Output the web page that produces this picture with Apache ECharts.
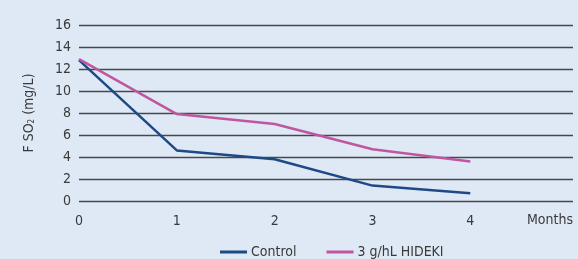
<!DOCTYPE html>
<html>
<head>
<meta charset="utf-8">
<script src="https://cdn.jsdelivr.net/npm/echarts@6/dist/echarts.min.js"></script>
<style>
  html, body { margin: 0; padding: 0; background: #dfe8f5; }
  #chart { width: 578px; height: 259px; }
</style>
</head>
<body>
<div id="chart"></div>
<script>
// data
var months = [0, 1, 2, 3, 4]
var controlValues = [12.8, 4.6, 3.8, 1.4, 0.7]
var hidekiValues = [12.9, 7.9, 7.0, 4.7, 3.6]
var seriesNames = ['Control', '3 g/hL HIDEKI']

var font = '"Liberation Sans Narrow", "DejaVu Sans Condensed", sans-serif'

function pairs (xs, ys) {
  return xs.map(function (x, i) { return [x, ys[i]] })
}

var chart = echarts.init(document.getElementById('chart'))
var option = {
  backgroundColor: '#dfe8f5',
  animation: false,
  textStyle: { fontFamily: font },
  grid: { left: 79, right: 5, top: 25, bottom: 58 },
  legend: {
    bottom: -5,
    left: 215,
    itemWidth: 27,
    itemHeight: 3,
    itemGap: 30,
    icon: 'rect',
    textStyle: { fontFamily: font, fontSize: 14, color: '#3a3a3a', padding: [0, 0, 0, -1] },
    data: seriesNames
  },
  graphic: [
    {
      type: 'text',
      right: 5,
      top: 213,
      style: { text: 'Months', fontFamily: font, fontSize: 14, fill: '#3a3a3a' }
    }
  ],
  xAxis: {
    type: 'value',
    min: 0,
    max: 5.05,
    interval: 1,
    axisLine: { show: false },
    axisTick: { show: false },
    splitLine: { show: false },
    axisLabel: {
      fontFamily: font,
      fontSize: 14,
      color: '#3a3a3a',
      margin: 13,
      formatter: function (v) { return v <= 4 ? String(v) : '' }
    }
  },
  yAxis: {
    type: 'value',
    min: 0,
    max: 16,
    interval: 2,
    name: '{a|F SO}{s|2}{a| (mg/L)}',
    nameLocation: 'middle',
    nameGap: 43,
    nameRotate: 90,
    nameTextStyle: {
      rich: {
        a: { fontFamily: font, fontSize: 14, color: '#3a3a3a' },
        s: { fontFamily: font, fontSize: 8, color: '#3a3a3a', verticalAlign: 'bottom', padding: [6, 0, 0, 0] }
      }
    },
    axisLine: { show: false },
    axisTick: { show: false },
    axisLabel: { fontFamily: font, fontSize: 14, color: '#3a3a3a', margin: 8 },
    splitLine: { lineStyle: { color: '#45484f', width: 1.4 } }
  },
  series: [
    {
      name: seriesNames[0],
      type: 'line',
      data: pairs(months, controlValues),
      showSymbol: false,
      symbol: 'none',
      lineStyle: { color: '#1d4a87', width: 2.5 },
      itemStyle: { color: '#1d4a87' }
    },
    {
      name: seriesNames[1],
      type: 'line',
      data: pairs(months, hidekiValues),
      showSymbol: false,
      symbol: 'none',
      lineStyle: { color: '#c0569f', width: 2.5 },
      itemStyle: { color: '#c0569f' }
    }
  ]
}
chart.setOption(option)
</script>
</body>
</html>
